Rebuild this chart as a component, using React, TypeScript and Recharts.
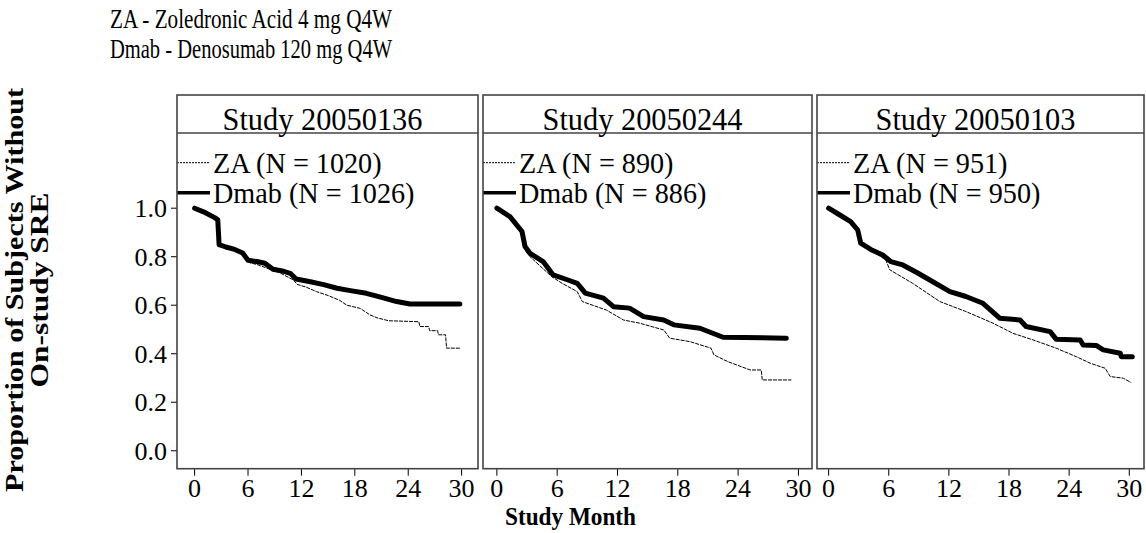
import React from 'react';
import { LineChart, Line, XAxis, YAxis, Legend } from 'recharts';

const FONT = '"Liberation Serif", "Times New Roman", Times, serif';

const STUDIES = ['Study 20050136', 'Study 20050244', 'Study 20050103'];
const ZA_N = [1020, 890, 951];
const DMAB_N = [1026, 886, 950];
const MONTH_TICKS = [0, 6, 12, 18, 24, 30];
const PROB_TICKS = [0, 0.2, 0.4, 0.6, 0.8, 1.0];

// Study 20050136
const s136ZaMonth = [0, 1.0, 2.3, 2.6, 2.75, 3.5, 4.5, 5.4, 6.2, 7.0, 8.1, 9.5, 11.1, 11.5, 12.5, 13.7, 15.0, 16.3, 17.1, 18.6, 19.7, 20.5, 21.8, 25.2, 25.3, 26.3, 26.4, 27.3, 27.4, 28.2, 28.3, 29.8];
const s136ZaProb = [1.0, 0.985, 0.96, 0.952, 0.85, 0.84, 0.83, 0.81, 0.775, 0.768, 0.753, 0.735, 0.704, 0.686, 0.675, 0.656, 0.64, 0.62, 0.6, 0.587, 0.56, 0.548, 0.536, 0.532, 0.512, 0.512, 0.495, 0.495, 0.478, 0.478, 0.423, 0.423];
const s136DmabMonth = [0, 1.0, 2.3, 2.6, 2.75, 3.5, 4.5, 5.4, 6.0, 7.0, 7.9, 8.8, 10.0, 10.8, 11.4, 13.0, 14.5, 16.0, 17.5, 19.3, 21.0, 22.7, 24.2, 29.8];
const s136DmabProb = [1.0, 0.985, 0.96, 0.952, 0.85, 0.84, 0.83, 0.815, 0.785, 0.78, 0.773, 0.748, 0.74, 0.73, 0.708, 0.697, 0.685, 0.67, 0.66, 0.649, 0.632, 0.615, 0.605, 0.605];

// Study 20050244
const s244ZaMonth = [0, 1.3, 2.5, 2.9, 3.3, 5.45, 6.5, 8.0, 8.5, 10.9, 12.6, 14.2, 16.6, 17.2, 19.2, 21.3, 21.6, 23.0, 25.2, 26.3, 26.4, 29.3];
const s244ZaProb = [1.0, 0.965, 0.904, 0.82, 0.8, 0.718, 0.69, 0.656, 0.615, 0.58, 0.539, 0.526, 0.498, 0.464, 0.45, 0.423, 0.395, 0.367, 0.333, 0.333, 0.292, 0.292];
const s244DmabMonth = [0, 1.3, 2.5, 2.8, 3.3, 4.6, 5.6, 7.0, 8.0, 8.8, 10.6, 11.6, 13.2, 14.6, 16.6, 17.6, 20.2, 22.5, 28.8];
const s244DmabProb = [1.0, 0.965, 0.904, 0.842, 0.814, 0.78, 0.725, 0.705, 0.69, 0.65, 0.629, 0.594, 0.588, 0.553, 0.539, 0.519, 0.505, 0.468, 0.464];

// Study 20050103
const s103ZaMonth = [0, 1.0, 2.2, 2.9, 3.2, 4.5, 5.7, 6.1, 8.4, 11.1, 13.7, 16.4, 18.4, 20.4, 22.7, 24.7, 26.1, 27.6, 28.1, 29.4, 30.2];
const s103ZaProb = [1.0, 0.975, 0.945, 0.91, 0.856, 0.82, 0.787, 0.746, 0.69, 0.615, 0.574, 0.526, 0.484, 0.457, 0.423, 0.388, 0.361, 0.34, 0.306, 0.299, 0.281];
const s103DmabMonth = [0, 1.0, 2.2, 2.9, 3.2, 4.2, 5.4, 6.2, 7.4, 8.8, 10.1, 12.1, 13.7, 15.4, 17.1, 19.1, 19.7, 22.1, 22.7, 25.1, 25.4, 26.7, 27.4, 29.1, 29.2, 30.3];
const s103DmabProb = [1.0, 0.975, 0.945, 0.91, 0.856, 0.83, 0.807, 0.78, 0.766, 0.735, 0.704, 0.656, 0.636, 0.608, 0.546, 0.539, 0.512, 0.491, 0.46, 0.457, 0.436, 0.434, 0.416, 0.402, 0.388, 0.388];

const toPoints = (months: number[], probs: number[]) =>
  months.map((m, i) => ({ month: m, prob: probs[i] }));

const ZA_DATA = [
  toPoints(s136ZaMonth, s136ZaProb),
  toPoints(s244ZaMonth, s244ZaProb),
  toPoints(s103ZaMonth, s103ZaProb),
];
const DMAB_DATA = [
  toPoints(s136DmabMonth, s136DmabProb),
  toPoints(s244DmabMonth, s244DmabProb),
  toPoints(s103DmabMonth, s103DmabProb),
];

// panel frames in page pixels, and the x range each frame shows
const PANELS = [
  { left: 177, right: 478, xMin: -1.98, xMax: 31.84 },
  { left: 483, right: 812, xMin: -1.38, xMax: 31.35 },
  { left: 817, right: 1144, xMin: -1.16, xMax: 31.47 },
];
const W = 1146;
const H = 533;
const HEADER_TOP = 95;
const PLOT_TOP = 133;
const PLOT_BOTTOM = 468.7;
const X_AXIS_H = 40;
const Y_AXIS_W = 50;
const Y_DOMAIN: [number, number] = [-0.074, 1.31];

const FRAME = '#444';

// legend: ZA thin dotted first, then Dmab thick
const legendContent = (props: any) => {
  const payload = [...(props.payload || [])].sort((a: any, b: any) =>
    String(a.value).startsWith('ZA') ? -1 : String(b.value).startsWith('ZA') ? 1 : 0
  );
  return (
    <svg width={320} height={64} style={{ display: 'block', overflow: 'visible' }}>
      {payload.map((entry: any, i: number) => {
        const y = 14.7 + i * 30;
        const thick = !String(entry.value).startsWith('ZA');
        return (
          <g key={i}>
            <line
              x1={0}
              x2={33}
              y1={y}
              y2={y}
              stroke="#000"
              strokeWidth={thick ? 3.5 : 1}
              strokeDasharray={thick ? undefined : '2 1'}
            />
            <text
              transform={`translate(36,${y + 10.6}) scale(0.94,1)`}
              fontFamily={FONT}
              fontSize={30}
              fill="#000"
            >
              {entry.value}
            </text>
          </g>
        );
      })}
    </svg>
  );
};

function Panel({ index }: { index: number }) {
  const p = PANELS[index];
  const showY = index === 0;
  return (
    <div style={{ position: 'absolute', left: 0, top: 0 }}>
      <LineChart
        width={W}
        height={H}
        margin={{
          top: PLOT_TOP,
          bottom: H - PLOT_BOTTOM - X_AXIS_H,
          left: showY ? p.left - Y_AXIS_W : p.left,
          right: W - p.right,
        }}
      >
        <XAxis
          type="number"
          dataKey="month"
          domain={[p.xMin, p.xMax]}
          ticks={MONTH_TICKS}
          interval={0}
          allowDataOverflow
          height={X_AXIS_H}
          axisLine={false}
          tickSize={7}
          tickMargin={3}
          tickLine={{ stroke: '#000' }}
          tick={{ fontSize: 26, fill: '#000', fontFamily: FONT }}
        />
        <YAxis
          type="number"
          domain={Y_DOMAIN}
          ticks={PROB_TICKS}
          interval={0}
          allowDataOverflow
          width={Y_AXIS_W}
          hide={!showY}
          axisLine={false}
          tickSize={6}
          tickMargin={4}
          tickLine={{ stroke: '#000' }}
          tickFormatter={(v: number) => v.toFixed(1)}
          tick={{ fontSize: 26, fill: '#000', fontFamily: FONT }}
        />
        <Legend
          layout="horizontal"
          verticalAlign="middle"
          align="center"
          content={legendContent}
          wrapperStyle={{ left: p.left, top: 148, width: 320, height: 64 }}
        />
        <Line
          data={ZA_DATA[index]}
          dataKey="prob"
          name={`ZA (N = ${ZA_N[index]})`}
          type="linear"
          stroke="#000"
          strokeWidth={1}
          strokeDasharray="4 1"
          dot={false}
          activeDot={false}
          isAnimationActive={false}
        />
        <Line
          data={DMAB_DATA[index]}
          dataKey="prob"
          name={`Dmab (N = ${DMAB_N[index]})`}
          type="linear"
          stroke="#000"
          strokeWidth={5}
          strokeLinecap="round"
          strokeLinejoin="round"
          dot={false}
          activeDot={false}
          isAnimationActive={false}
        />
      </LineChart>
    </div>
  );
}

export default function App() {
  return (
    <div style={{ position: 'absolute', left: 0, top: 0, width: W, height: H, background: '#fff', fontFamily: FONT }}>
      {PANELS.map((_, i) => (
        <Panel key={i} index={i} />
      ))}
      <svg width={W} height={H} style={{ position: 'absolute', left: 0, top: 0, pointerEvents: 'none' }}>
        <text x={110} y={28.3} fontFamily={FONT} fontSize={28} textLength={282} lengthAdjust="spacingAndGlyphs">
          ZA - Zoledronic Acid 4 mg Q4W
        </text>
        <text x={110} y={58.3} fontFamily={FONT} fontSize={28} textLength={282} lengthAdjust="spacingAndGlyphs">
          Dmab - Denosumab 120 mg Q4W
        </text>

        {PANELS.map((p, i) => (
          <g key={i}>
            <rect x={p.left} y={HEADER_TOP} width={p.right - p.left} height={PLOT_BOTTOM - HEADER_TOP} fill="none" stroke={FRAME} strokeWidth={1.6} />
            <line x1={p.left} x2={p.right} y1={PLOT_TOP} y2={PLOT_TOP} stroke={FRAME} strokeWidth={1.6} />
            <text
              x={(p.left + p.right) / 2 - 5}
              y={129.5}
              textAnchor="middle"
              fontFamily={FONT}
              fontSize={31}
              textLength={200}
              lengthAdjust="spacingAndGlyphs"
            >
              {STUDIES[i]}
            </text>
          </g>
        ))}

        <text
          transform="translate(23,290) rotate(-90)"
          textAnchor="middle"
          fontFamily={FONT}
          fontWeight="bold"
          fontSize={26}
          textLength={404}
          lengthAdjust="spacingAndGlyphs"
        >
          Proportion of Subjects Without
        </text>
        <text
          transform="translate(47.5,290) rotate(-90)"
          textAnchor="middle"
          fontFamily={FONT}
          fontWeight="bold"
          fontSize={26}
          textLength={195}
          lengthAdjust="spacingAndGlyphs"
        >
          On-study SRE
        </text>
        <text
          x={570.5}
          y={525}
          textAnchor="middle"
          fontFamily={FONT}
          fontWeight="bold"
          fontSize={26}
          textLength={131}
          lengthAdjust="spacingAndGlyphs"
        >
          Study Month
        </text>
      </svg>
    </div>
  );
}
